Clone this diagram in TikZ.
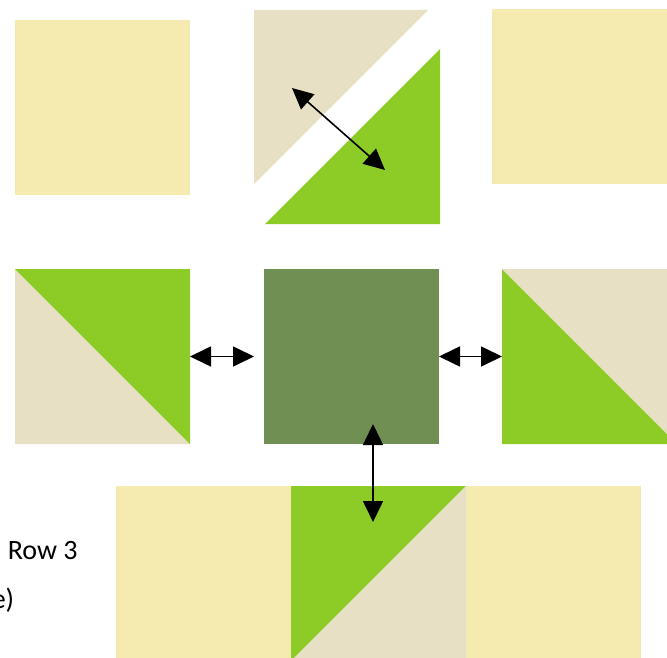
\documentclass[tikz,border=0pt]{standalone}
\usepackage{fontspec}
\setmainfont{Carlito}
\usetikzlibrary{arrows.meta, positioning}

\definecolor{quiltyellow}{HTML}{F5EAB0}
\definecolor{quilttan}{HTML}{E8E0C5}
\definecolor{quiltgreen}{HTML}{8DCB27}
\definecolor{quiltdark}{HTML}{6F8F53}

\begin{document}
\begin{tikzpicture}[x=1pt, y=-1pt, >={Triangle[length=21pt, width=20pt]}, line width=1.6pt,
  block/.style={minimum size=175pt, inner sep=0pt, outer sep=0pt},
  plain/.style={block, fill=quiltyellow},
  swap/.style={<->, shorten >=0pt, shorten <=0pt}]
  \useasboundingbox (0,0) rectangle (667,658);

  % row 1
  \node[plain] (tl) at (102.5,108) {};
  \node[plain] (tr) at (579,97) {};
  \coordinate (tanA) at (254,10);
  \coordinate (tanB) at (428,10);
  \coordinate (tanC) at (254,184);
  \coordinate (grnA) at (440,49);
  \coordinate (grnB) at (440,224);
  \coordinate (grnC) at (265,224);
  \fill[quilttan]   (tanA) -- (tanB) -- (tanC) -- cycle;
  \fill[quiltgreen] (grnA) -- (grnB) -- (grnC) -- cycle;

  % row 2
  \node[block] (ml) at (102.5,356.5) {};
  \node[block, fill=quiltdark] (mc) [right=74pt of ml] {};
  \node[block] (mr) [right=63pt of mc] {};
  \fill[quilttan]   (ml.north west) -- (ml.south east) -- (ml.south west) -- cycle;
  \fill[quiltgreen] (ml.north west) -- (ml.north east) -- (ml.south east) -- cycle;
  \fill[quiltgreen] (mr.north west) -- (mr.south east) -- (mr.south west) -- cycle;
  \fill[quilttan]   (mr.north west) -- (mr.north east) -- (mr.south east) -- cycle;

  % row 3
  \node[block] (bc) at (378.5,573.5) {};
  \node[plain] (bl) [left=0pt of bc] {};
  \node[plain] (br) [right=0pt of bc] {};
  \fill[quiltgreen] (bc.south west) -- (bc.north west) -- (bc.north east) -- cycle;
  \fill[quilttan]   (bc.south west) -- (bc.north east) -- (bc.south east) -- cycle;

  \node[anchor=base west, inner sep=0pt, font=\fontsize{28}{34}\selectfont] (rowlabel) at (7,559) {Row 3};
  \node[anchor=base east, inner sep=0pt, font=\fontsize{28}{34}\selectfont] (restlabel) at (15,608) {e)};

  % swaps
  \coordinate (diagA) at (292,88);
  \coordinate (diagB) at (385,170);
  \coordinate (vertA) at (373,424);
  \coordinate (vertB) at (373,522);
  \draw[swap] (diagA) -- (diagB);
  \draw[swap, shorten >=10pt] (ml.east) -- (mc.west);
  \draw[swap] (mc.east) -- (mr.west);
  \draw[swap] (vertA) -- (vertB);
\end{tikzpicture}
\end{document}
